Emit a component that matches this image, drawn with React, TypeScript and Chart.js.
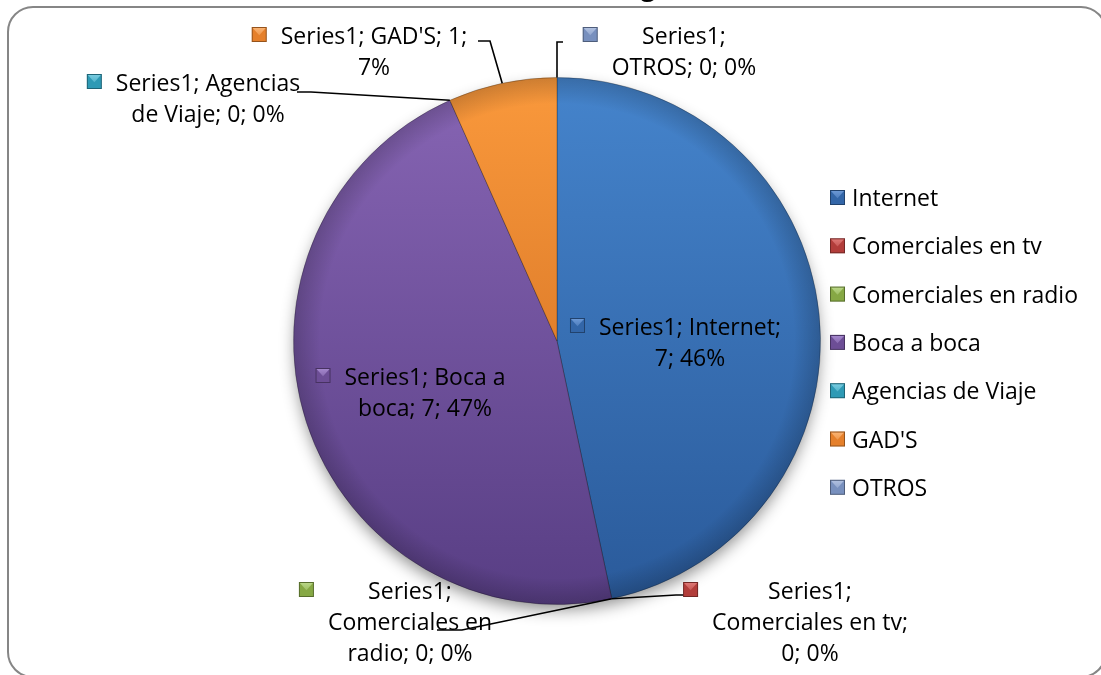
import React, { useEffect, useRef } from "react";
import { Chart, registerables } from "chart.js";

Chart.register(...registerables);

// ---------- data ----------
const seriesName = "Series1";
const categories = [
  "Internet",
  "Comerciales en tv",
  "Comerciales en radio",
  "Boca a boca",
  "Agencias de Viaje",
  "GAD'S",
  "OTROS",
];
const values = [7, 0, 0, 7, 0, 1, 0];
const percentLabels = ["46%", "0%", "0%", "47%", "0%", "7%", "0%"];
const titleText = "Medio en el cual se enteró del lugar";

// ---------- styles ----------
const W = 1101;
const H = 675;
const FONT_FAMILY = '"Open Sans", "Noto Sans", sans-serif';
const FONT_SIZE = 24;
const sliceTop = ["#4584CC", "#C9524F", "#9BBB59", "#8765B4", "#4BACC6", "#FA993C", "#8EA5CF"];
const sliceBottom = ["#2A5A9A", "#9A3B38", "#76933C", "#583E84", "#31859C", "#C8661C", "#5E77A6"];
const keyColors = ["#3366A8", "#B23D3A", "#86A844", "#6D4E96", "#2E9AB5", "#E5802B", "#7890BE"];
const keyLight = ["#6F9BD8", "#E07A77", "#BCD98A", "#A88BD0", "#7DCFE3", "#FBB677", "#B3C3E2"];

// label layout: center x, first baseline, words per line, leader points (from label towards pie)
const labelLayout: { cx: number; y0: number; words: number[]; leader?: number[][] }[] = [
  { cx: 690, y0: 335, words: [2, 2] },
  { cx: 810, y0: 599, words: [1, 3, 2], leader: [[690, 595], [676, 595]] },
  { cx: 410, y0: 599, words: [1, 2, 3], leader: [[437, 630], [462, 630]] },
  { cx: 425, y0: 385, words: [3, 3] },
  { cx: 208, y0: 91, words: [2, 4], leader: [[297, 92], [311, 92]] },
  { cx: 374, y0: 44, words: [3, 1], leader: [[478, 41], [490, 41]] },
  { cx: 684, y0: 44, words: [1, 3], leader: [[563, 42], [557, 42]] },
];
const LINE_H = 31;

function labelText(i: number) {
  return `${seriesName}; ${categories[i]}; ${values[i]}; ${percentLabels[i]}`;
}

let sx = 1;

function setFont(ctx: CanvasRenderingContext2D, bold = false, size = FONT_SIZE) {
  ctx.font = `${bold ? "bold " : ""}${size}px ${FONT_FAMILY}`;
}

function drawText(ctx: CanvasRenderingContext2D, s: string, x: number, y: number, align: CanvasTextAlign) {
  ctx.save();
  ctx.translate(x, y);
  ctx.scale(sx, 1);
  ctx.textAlign = align;
  ctx.textBaseline = "alphabetic";
  ctx.fillText(s, 0, 0);
  ctx.restore();
}

function textW(ctx: CanvasRenderingContext2D, s: string) {
  return ctx.measureText(s).width * sx;
}

function drawKey(ctx: CanvasRenderingContext2D, x: number, y: number, i: number) {
  const s = 15;
  ctx.save();
  const g = ctx.createLinearGradient(0, y, 0, y + s);
  g.addColorStop(0, keyLight[i]);
  g.addColorStop(1, keyColors[i]);
  ctx.fillStyle = keyColors[i];
  ctx.fillRect(x, y, s, s);
  ctx.beginPath();
  ctx.moveTo(x + 1, y + 1);
  ctx.lineTo(x + s - 1, y + 1);
  ctx.lineTo(x + s / 2, y + s * 0.55);
  ctx.closePath();
  ctx.fillStyle = g;
  ctx.fill();
  ctx.strokeStyle = "rgba(0,0,0,0.35)";
  ctx.lineWidth = 1;
  ctx.strokeRect(x + 0.5, y + 0.5, s - 1, s - 1);
  ctx.restore();
}

const decorPlugin = {
  id: "decor",
  beforeDatasetsDraw(chart: any) {
    const ctx: CanvasRenderingContext2D = chart.ctx;
    const meta = chart.getDatasetMeta(0);
    const arc = meta.data[0];
    if (!arc) return;
    const { x, y, outerRadius } = arc.getProps(["x", "y", "outerRadius"], true);
    ctx.save();
    ctx.shadowColor = "rgba(0,0,0,0.45)";
    ctx.shadowBlur = 16;
    ctx.shadowOffsetY = 7;
    ctx.beginPath();
    ctx.arc(x, y, outerRadius - 2, 0, Math.PI * 2);
    ctx.fillStyle = "#666";
    ctx.fill();
    ctx.restore();
  },
  afterDatasetsDraw(chart: any) {
    const ctx: CanvasRenderingContext2D = chart.ctx;
    const meta = chart.getDatasetMeta(0);
    const arc0 = meta.data[0];
    const { x, y, outerRadius } = arc0.getProps(["x", "y", "outerRadius"], true);
    ctx.save();
    const rg = ctx.createRadialGradient(x, y, outerRadius * 0.9, x, y, outerRadius);
    rg.addColorStop(0, "rgba(0,0,0,0)");
    rg.addColorStop(1, "rgba(0,0,0,0.18)");
    ctx.beginPath();
    ctx.arc(x, y, outerRadius, 0, Math.PI * 2);
    ctx.fillStyle = rg;
    ctx.fill();
    ctx.restore();
  },
  afterDraw(chart: any) {
    const ctx: CanvasRenderingContext2D = chart.ctx;
    setFont(ctx);
    sx = 1;
    sx = 226 / ctx.measureText("Comerciales en radio").width;

    // outer border
    ctx.save();
    ctx.strokeStyle = "#868686";
    ctx.lineWidth = 2;
    ctx.beginPath();
    (ctx as any).roundRect(8, 7, 1098, 670, 25);
    ctx.stroke();
    ctx.restore();

    // title (mostly above the visible area)
    ctx.save();
    setFont(ctx, true, 28);
    ctx.fillStyle = "#000";
    const gi = titleText.lastIndexOf("g");
    const pre = ctx.measureText(titleText.slice(0, gi)).width * sx;
    const gw = ctx.measureText("g").width * sx;
    drawText(ctx, titleText, 648 - pre - gw / 2, -5.5, "left");
    ctx.restore();

    // legend
    ctx.save();
    setFont(ctx);
    ctx.fillStyle = "#000";
    categories.forEach((c, i) => {
      const by = 206 + i * 48.3;
      drawKey(ctx, 830, by - 16, i);
      drawText(ctx, c, 852, by, "left");
    });
    ctx.restore();

    // data labels
    const meta = chart.getDatasetMeta(0);
    ctx.save();
    setFont(ctx);
    categories.forEach((_, i) => {
      const L = labelLayout[i];
      const el = meta.data[i];
      const p = el.getProps(["x", "y", "startAngle", "endAngle", "outerRadius"], true);
      if (L.leader) {
        const mid = (p.startAngle + p.endAngle) / 2;
        const ax = p.x + Math.cos(mid) * p.outerRadius;
        const ay = p.y + Math.sin(mid) * p.outerRadius;
        ctx.beginPath();
        ctx.moveTo(L.leader[0][0], L.leader[0][1]);
        for (let k = 1; k < L.leader.length; k++) ctx.lineTo(L.leader[k][0], L.leader[k][1]);
        ctx.lineTo(ax, ay);
        ctx.strokeStyle = "#000";
        ctx.lineWidth = 1.6;
        ctx.stroke();
      }
      const words = labelText(i).split(" ");
      const lines: string[] = [];
      let w = 0;
      L.words.forEach((n) => {
        lines.push(words.slice(w, w + n).join(" "));
        w += n;
      });
      const maxW = Math.max(...lines.map((s) => textW(ctx, s)));
      const left = L.cx - maxW / 2;
      drawKey(ctx, left - 29, L.y0 - 17, i);
      ctx.fillStyle = "#000";
      lines.forEach((s, k) => drawText(ctx, s, L.cx, L.y0 + k * LINE_H, "center"));
    });
    ctx.restore();
  },
};

export default function App() {
  const ref = useRef<HTMLCanvasElement | null>(null);
  useEffect(() => {
    if (!ref.current) return;
    const chart = new Chart(ref.current, {
      type: "pie",
      data: {
        labels: categories,
        datasets: [
          {
            data: values,
            backgroundColor: (c: any) => {
              const { ctx, chartArea } = c.chart;
              const i = c.dataIndex ?? 0;
              if (!chartArea) return sliceTop[i];
              const g = ctx.createLinearGradient(0, chartArea.top, 0, chartArea.bottom);
              g.addColorStop(0, sliceTop[i]);
              g.addColorStop(1, sliceBottom[i]);
              return g;
            },
            borderColor: "rgba(0,0,0,0.25)",
            borderWidth: (c: any) => (values[c.dataIndex] > 0 ? 1 : 0),
          },
        ],
      },
      options: {
        responsive: false,
        animation: false,
        layout: { padding: { top: 77, bottom: 70, left: 293, right: 280 } },
        plugins: {
          legend: { display: false },
          tooltip: { enabled: false },
          title: { display: false },
        },
      },
      plugins: [decorPlugin],
    } as any);
    return () => chart.destroy();
  }, []);
  return (
    <div style={{ position: "fixed", left: 0, top: 0, width: W, height: H, background: "#fff" }}>
      <canvas ref={ref} width={W} height={H} style={{ width: W, height: H, display: "block" }} />
    </div>
  );
}
